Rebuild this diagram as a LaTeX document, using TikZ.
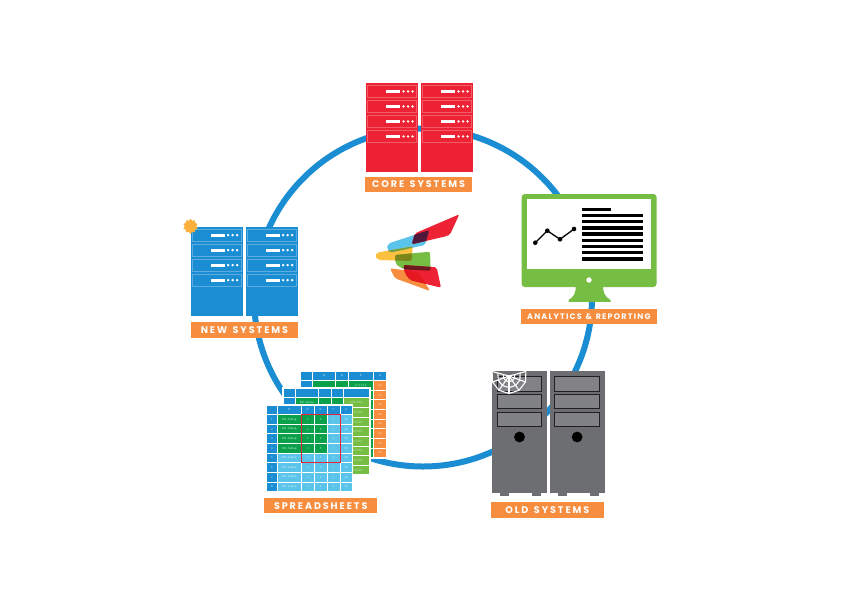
\documentclass[tikz,border=0pt]{standalone}
\usepackage{fontspec}
\usetikzlibrary{shapes.geometric,calc}
\newfontfamily\lblfont{Poppins}[LetterSpace=20,WordSpace=1.4]
\newfontfamily\lblfontsmall{Poppins}[LetterSpace=15,WordSpace=1.3]
\definecolor{cblue}{HTML}{1B8DD2}
\definecolor{cblueln}{HTML}{5CACE0}
\definecolor{cred}{HTML}{EE2235}
\definecolor{credln}{HTML}{F25C69}
\definecolor{corange}{HTML}{F68D3F}
\definecolor{cgrey}{HTML}{6D6E71}
\definecolor{cdrive}{HTML}{808285}
\definecolor{cblack}{HTML}{231F20}
\definecolor{cmon}{HTML}{76BD43}
\definecolor{cgold}{HTML}{FBB03B}
\definecolor{csheetg}{HTML}{0BA14B}
\definecolor{csheetl}{HTML}{5AC4EA}
\definecolor{cyellow}{HTML}{FCC13E}
\definecolor{cmaroon}{HTML}{50193C}
\definecolor{colive}{HTML}{7D8719}
\definecolor{cbandg}{HTML}{6EA046}
\definecolor{cdarkred}{HTML}{6E191E}
\definecolor{cdeepred}{HTML}{E4181E}
\tikzset{
  lab/.style={fill=corange,text=white,inner sep=0pt,font=\lblfont\bfseries\fontsize{9.6}{11}\selectfont,anchor=center},
  logopart/.style={rounded corners=2pt},
  celltxt/.style={text=white,opacity=.75,inner sep=0pt,font=\sffamily\fontsize{3}{3}\selectfont},
  drive/.style={fill=cdrive,draw=cblack,line width=1.2pt},
  webline/.style={draw=white,line width=1.1pt,line join=round}
}
% \rackunit{x0}{x1}{y0}{y1}{fill}{line}
\newcommand{\rackunit}[6]{%
  \fill[#5] (#1,#3) rectangle (#2,#4);
  \foreach \u in {0,1,2,3}{
    \draw[#6,line width=.8pt] (#1+1.2,#3+2.3+\u*15) rectangle (#2-1.2,#3+14.6+\u*15);
    \fill[white] (#1+20,#3+7.0+\u*15) rectangle (#1+34,#3+9.8+\u*15);
    \fill[white] (#1+37.5,#3+8.4+\u*15) circle (1.35pt);
    \fill[white] (#1+42,#3+8.4+\u*15) circle (1.35pt);
    \fill[white] (#1+46.5,#3+8.4+\u*15) circle (1.35pt);
  }
}
% \cells{x0}{x1}{y0}{first row}{last row}{colour}
\newcommand{\cells}[6]{%
  \foreach \r in {#4,...,#5}{
    \fill[#6] (#1+.5,#3+\r*9.63+.5) rectangle (#2-.5,#3+\r*9.63+9.13);
  }
}
\newcommand{\tower}[2]{%
  \fill[cgrey] (#1+8.5,493) rectangle (#1+17.5,495.5);
  \fill[cgrey] (#1+40.5,493) rectangle (#1+49.5,495.5);
  \fill[cgrey] (#1,371) rectangle (#1+55.3,493);
  \foreach \d in {376.8,394.2,412.4}{
    \draw[drive] (#2,\d) rectangle (#2+44.5,\d+14.4);
  }
  \fill[black] (#2+22.3,437) circle (5.4pt);
}
\newcommand{\pblue}{(388.3,243.5) -- (429.3,230) -- (425,245) -- (390,252.7) -- (386.8,249) -- cycle}
\newcommand{\pyellow}{(376.7,252.7) -- (412.7,246.3) -- (411.7,261) -- (378.3,260) -- (375,256) -- cycle}
\newcommand{\pgreen}{(395,255) -- (430,251.7) -- (430.7,270.7) -- (404,269.5) -- (395.7,264.3) -- cycle}
\newcommand{\porange}{(390,268.3) -- (418,272) -- (424,281) -- (430,291) -- (395,278.3) -- cycle}
\newcommand{\predA}{(415,233.3) -- (459.3,214.3) -- (450,234.5) -- (447,236) -- (411.7,244.3) -- cycle}
\newcommand{\predB}{(403.3,265) -- (436.7,267.3) -- (441,287.7) -- (410,280) -- (405,273.3) -- cycle}
\begin{document}
\begin{tikzpicture}[x=1pt,y=-1pt]
\useasboundingbox (0,0) rectangle (842,595);
\fill[white] (0,0) rectangle (842,595);
% ring
\draw[cblue,line width=6pt] (423,297.5) circle [radius=169pt];
% core systems
\rackunit{366}{418}{83}{172}{cred}{credln}
\rackunit{421}{473}{83}{172}{cred}{credln}
\node[lab,minimum width=107.3pt,minimum height=15.6pt] (core) at (418.6,184.5) {CORE SYSTEMS};
% new systems
\rackunit{190.7}{242.7}{226.7}{315.5}{cblue}{cblueln}
\rackunit{245.7}{297.5}{226.7}{315.5}{cblue}{cblueln}
\node[star,star points=10,star point ratio=1.3,fill=cgold,minimum size=15pt,inner sep=0pt] (sun) at (190.5,226.3) {};
\node[lab,minimum width=107.3pt,minimum height=15.6pt] (new) at (244.4,330.2) {NEW SYSTEMS};
% monitor
\fill[cmon] (575.7,285) .. controls (576,293) and (574,297) .. (568.5,300) -- (568.5,301.8) -- (610.7,301.8) -- (610.7,300) .. controls (605,297) and (603,293) .. (603,285) -- cycle;
\fill[cmon,rounded corners=3pt] (521.7,194) rectangle (656.5,287);
\fill[white] (527.3,199.3) rectangle (651,269.3);
\fill[white] (589,280) circle (2.7pt);
\foreach \yy in {215.3,221.7,228,234,240.3,246.7,252.7,259}{
  \fill[black] (582.3,\yy-1.6) rectangle (642.7,\yy+1.6);
}
\fill[black] (582.3,207.7) rectangle (610.7,210.9);
\draw[black,line width=1.3pt] (535.3,242.7) -- (547.3,230.7) -- (560,239.3) -- (574,229);
\foreach \p in {(535.3,242.7),(547.3,230.7),(560,239.3),(574,229)}{
  \fill[black] \p circle (2.3pt);
}
\node[lab,minimum width=135.7pt,minimum height=15.4pt,font=\lblfontsmall\bfseries\fontsize{8}{10}\selectfont] (ana) at (588.9,316.7) {ANALYTICS \& REPORTING};
% old systems
\tower{491.7}{497.2}
\tower{549.7}{554.8}
\foreach \a in {-15,20,55,90,125,160,195}{
  \draw[webline] (509,376) -- ++(\a:17.5);
}
\foreach \s in {.33,.66,1}{
  \draw[webline] ($(509,376)+(-15:17.5*\s)$) -- ($(509,376)+(20:17.5*\s)$) -- ($(509,376)+(55:17.5*\s)$) -- ($(509,376)+(90:17.5*\s)$) -- ($(509,376)+(125:17.5*\s)$) -- ($(509,376)+(160:17.5*\s)$) -- ($(509,376)+(195:17.5*\s)$);
}
\node[lab,minimum width=112.7pt,minimum height=15.4pt] (old) at (547.4,510) {OLD SYSTEMS};
% spreadsheets: back sheet
\fill[white] (299,370) rectangle (387.5,458.5);
\foreach \a/\b in {300/312.3,312.3/335.5,335.5/348.3,348.3/373.3,373.3/386.5}{
  \cells{\a}{\b}{371}{0}{0}{cblue}
}
\cells{300}{312.3}{371}{1}{8}{cblue}
\cells{312.3}{335.5}{371}{1}{8}{csheetg}
\cells{335.5}{348.3}{371}{1}{8}{csheetg}
\cells{348.3}{373.3}{371}{1}{8}{csheetg}
\cells{373.3}{386.5}{371}{1}{8}{corange}
\foreach \r in {1,...,8}{
  \node[celltxt] (bt\r) at (360.8,371+\r*9.63+4.8) {CCCCCC};
  \node[celltxt] (bo\r) at (379.9,371+\r*9.63+4.8) {10};
}
\node[celltxt] (bh1) at (323.9,375.8) {B};
\node[celltxt] (bh2) at (341.9,375.8) {D};
\node[celltxt] (bh3) at (360.8,375.8) {E};
\node[celltxt] (bh4) at (379.9,375.8) {G};
% middle sheet
\fill[white] (281.5,387) rectangle (370.5,476);
\foreach \a/\b in {283/295.3,295.3/318.5,318.5/331.3,331.3/343.8,343.8/369.3}{
  \cells{\a}{\b}{388.3}{0}{0}{cblue}
}
\cells{283}{295.3}{388.3}{1}{8}{cblue}
\cells{295.3}{318.5}{388.3}{1}{8}{csheetg}
\cells{318.5}{331.3}{388.3}{1}{8}{csheetg}
\cells{331.3}{343.8}{388.3}{1}{8}{csheetg}
\cells{343.8}{369.3}{388.3}{1}{8}{cmon}
\foreach \r in {1,...,8}{
  \node[celltxt] (mt\r) at (356.5,388.3+\r*9.63+4.8) {CCCCCC};
  \node[celltxt] (mn\r) at (307,388.3+\r*9.63+4.8) {Bill Ashlop};
}
% front sheet
\fill[white] (265,404) rectangle (353.3,492.5);
\foreach \a/\b/\t in {266/277.7/{},277.7/301/B,301/314.3/D,314.3/327/E,327/340/F,340/352.3/G}{
  \cells{\a}{\b}{405}{0}{0}{cblue}
  \node[celltxt] (h\a) at ({(\a+\b)/2},409.8) {\t};
}
\cells{266}{277.7}{405}{1}{8}{cblue}
\cells{277.7}{301}{405}{1}{4}{csheetg}
\cells{301}{314.3}{405}{1}{4}{csheetg}
\cells{314.3}{327}{405}{1}{4}{csheetg}
\cells{277.7}{301}{405}{5}{8}{csheetl}
\cells{301}{314.3}{405}{5}{8}{csheetl}
\cells{314.3}{327}{405}{5}{8}{csheetl}
\cells{327}{340}{405}{1}{8}{csheetl}
\cells{340}{352.3}{405}{1}{8}{csheetl}
\foreach \r in {1,...,8}{
  \node[celltxt] (fr\r) at (271.8,405+\r*9.63+4.8) {\r};
  \node[celltxt] (fn\r) at (289.3,405+\r*9.63+4.8) {Bill Ashlop};
  \node[celltxt] (fa\r) at (307.6,405+\r*9.63+4.8) {1};
  \node[celltxt] (fb\r) at (320.6,405+\r*9.63+4.8) {3};
  \node[celltxt] (fc\r) at (333.5,405+\r*9.63+4.8) {7};
  \node[celltxt] (fd\r) at (346.1,405+\r*9.63+4.8) {10};
}
\draw[cred,line width=.9pt] (301,414.3) rectangle (340,462.7);
\node[lab,minimum width=113.3pt,minimum height=15.4pt] (sheets) at (320.7,505.7) {SPREADSHEETS};
% logo
\fill[logopart,fill=csheetl] \pblue;
\fill[logopart,fill=cyellow] \pyellow;
\fill[logopart,fill=cmon] \pgreen;
\fill[logopart,fill=corange] \porange;
\fill[logopart,fill=cred] \predA;
\fill[logopart,fill=cred] \predB;
\begin{scope}
  \clip[logopart] \pblue;
  \fill[logopart,fill=cmaroon] \predA;
  \fill[logopart,fill=cbandg] \pyellow;
\end{scope}
\begin{scope}
  \clip[logopart] \pyellow;
  \fill[logopart,fill=colive] \pgreen;
\end{scope}
\begin{scope}
  \clip[logopart] \pgreen;
  \fill[logopart,fill=cdarkred] \predB;
\end{scope}
\begin{scope}
  \clip[logopart] \porange;
  \fill[logopart,fill=cdeepred] \predB;
\end{scope}
\end{tikzpicture}
\end{document}
